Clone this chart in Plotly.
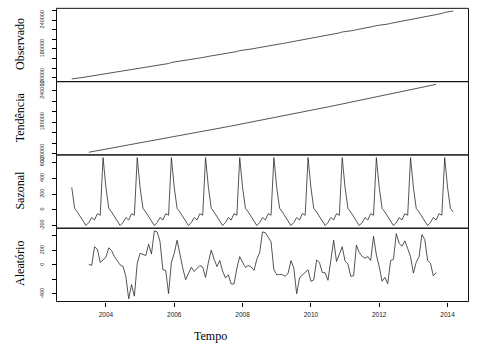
import plotly.graph_objects as go

# ---- data (monthly series, Jan 2003 - Mar 2014) ----
start_year = 2003
freq = 12

observado = [
    117710, 118140, 119230, 120260, 120850, 121850, 122810, 123800, 125030, 126030, 126740, 128470,
    129100, 129960, 130820, 131630, 132460, 133310, 134290, 135160, 135730, 137010, 137780, 140040,
    140810, 141510, 142420, 143540, 144300, 145630, 146640, 147530, 148010, 149080, 149670, 151920,
    152700, 153660, 154340, 155090, 155840, 156910, 158060, 159060, 160100, 161240, 162210, 163790,
    164680, 165650, 166470, 167310, 168380, 169180, 170130, 171280, 172140, 173250, 174530, 176500,
    177060, 177750, 178790, 179740, 180670, 181860, 183060, 184530, 185540, 186590, 187560, 188870,
    189470, 190290, 191290, 192270, 193340, 194560, 195550, 196250, 197560, 198770, 199870, 201720,
    202230, 203070, 204450, 205440, 206300, 207330, 208340, 209810, 211230, 212040, 213260, 215200,
    215690, 216480, 217320, 218380, 219950, 220880, 221970, 223120, 224230, 225360, 226870, 228400,
    228950, 229570, 230710, 231670, 233130, 234230, 235830, 236870, 237930, 239230, 240220, 241960,
    242450, 243510, 244710, 246170, 247170, 247920, 249060, 250070, 251250, 252760, 253600, 255840,
    256370, 257430, 258700,
]

tendencia = [None] * 6 + [
    123000, 123950, 124900, 125860, 126810, 127770,
    128730, 129690, 130650, 131620, 132590, 133550, 134520, 135490, 136470, 137440, 138420, 139400,
    140380, 141360, 142340, 143320, 144310, 145300, 146290, 147280, 148270, 149270, 150270, 151260,
    152270, 153270, 154270, 155280, 156280, 157290, 158300, 159310, 160330, 161340, 162360, 163380,
    164400, 165420, 166450, 167470, 168500, 169530, 170560, 171590, 172630, 173660, 174700, 175740,
    176780, 177820, 178870, 179910, 180960, 182010, 183060, 184110, 185170, 186220, 187280, 188340,
    189400, 190470, 191530, 192600, 193670, 194730, 195810, 196880, 197950, 199030, 200110, 201190,
    202270, 203350, 204440, 205530, 206620, 207710, 208800, 209890, 210990, 212080, 213180, 214280,
    215390, 216490, 217590, 218700, 219810, 220920, 222030, 223150, 224260, 225380, 226500, 227620,
    228740, 229870, 230990, 232120, 233250, 234380, 235510, 236650, 237790, 238920, 240060, 241200,
    242350, 243490, 244640, 245790, 246940, 248090, 249240, 250390, 251550,
] + [None] * 6

sazonal = [
    284, 20, -28, -88, -150, -198, -160, -97, -128, -48, -68, 661,
    284, 20, -28, -88, -150, -198, -160, -97, -128, -48, -68, 661,
    284, 20, -28, -88, -150, -198, -160, -97, -128, -48, -68, 661,
    284, 20, -28, -88, -150, -198, -160, -97, -128, -48, -68, 661,
    284, 20, -28, -88, -150, -198, -160, -97, -128, -48, -68, 661,
    284, 20, -28, -88, -150, -198, -160, -97, -128, -48, -68, 661,
    284, 20, -28, -88, -150, -198, -160, -97, -128, -48, -68, 661,
    284, 20, -28, -88, -150, -198, -160, -97, -128, -48, -68, 661,
    284, 20, -28, -88, -150, -198, -160, -97, -128, -48, -68, 661,
    284, 20, -28, -88, -150, -198, -160, -97, -128, -48, -68, 661,
    284, 20, -28, -88, -150, -198, -160, -97, -128, -48, -68, 661,
    284, 20, -28,
]

aleatorio = [None] * 6 + [
    10, -8, 251, 215, 33, 70,
    105, 237, 197, 115, 53, 0, -22, -158, -468, -272, -431, 23,
    160, 143, 129, 286, 150, 469, 456, 323, -68, -76, -395, 37,
    160, 341, 119, -45, -204, -110, -31, -90, -45, -8, -31, -172,
    37, 205, 78, -22, 60, -86, -181, -136, -263, -263, -45, 115,
    37, -35, -8, -28, -76, 78, 170, 456, 446, 381, 319, -68,
    -136, -131, -135, -158, -113, 60, -45, -399, -181, -136, -102, -68,
    -226, -208, 68, 33, -104, -109, -212, 47, 341, 47, 160, 251,
    53, 12, -158, -150, 274, 170, 119, 92, 115, 60, 395, 137,
    -22, -226, -172, -259, 60, 78, 432, 296, 259, 333, 225, 115,
    -113, 37, 115, 419, 350, 60, 23, -150, -104,
] + [None] * 6

panel_titles = ["Observado", "Tendência", "Sazonal", "Aleatório"]
x_label = "Tempo"
x_ticks = [2004, 2006, 2008, 2010, 2012, 2014]

y_ticks = [
    [120000, 140000, 160000, 180000, 200000, 220000, 240000, 260000],
    [120000, 140000, 160000, 180000, 200000, 220000, 240000],
    [-200, 0, 200, 400, 600],
    [-400, -200, 0, 200, 400],
]
y_labels = [
    ["120000", "", "", "180000", "", "", "240000", ""],
    ["120000", "", "", "180000", "", "", "240000"],
    ["-200", "0", "200", "400", "600"],
    ["-400", "", "0", "200", ""],
]

# ---- layout helpers ----
W, H = 484, 353
n = len(observado)
t = [start_year + i / freq for i in range(n)]


def padded(vals):
    v = [a for a in vals if a is not None]
    lo, hi = min(v), max(v)
    d = (hi - lo) * 0.04
    return [lo - d, hi + d]


xr = padded(t)
x_dom = [56.5 / W, 468.5 / W]
panel_px = [(7.5, 82.5), (82.5, 157.5), (157.5, 232.5), (232.5, 307.5)]

series = [observado, tendencia, sazonal, aleatorio]
fig = go.Figure()
axis_font = "Liberation Sans, Arial, sans-serif"
serif = "Liberation Serif, Times New Roman, serif"

for i, s in enumerate(series):
    xn = "x" if i == 0 else f"x{i + 1}"
    yn = "y" if i == 0 else f"y{i + 1}"
    fig.add_trace(go.Scatter(
        x=t, y=s, mode="lines", line=dict(color="#2a2a2a", width=0.8),
        xaxis=xn, yaxis=yn, showlegend=False, hoverinfo="skip",
        connectgaps=False,
    ))
    top, bot = panel_px[i]
    ydom = [1 - bot / H, 1 - top / H]
    xkey = "xaxis" if i == 0 else f"xaxis{i + 1}"
    ykey = "yaxis" if i == 0 else f"yaxis{i + 1}"
    xa = dict(
        domain=x_dom, range=xr, anchor=yn, showline=False,
        showgrid=False, zeroline=False, fixedrange=True,
    )
    if i == 3:
        xa.update(ticks="outside", ticklen=4, tickcolor="black", tickwidth=1,
                  tickmode="array", tickvals=x_ticks,
                  ticktext=[str(v) for v in x_ticks],
                  tickfont=dict(family=axis_font, size=6.5, color="#222222"),
                  showticklabels=True, ticklabelstandoff=3)
    else:
        xa.update(showticklabels=False, ticks="", matches="x")
    ya = dict(
        domain=ydom, range=padded(s), anchor=xn, showline=False,
        showgrid=False, zeroline=False,
        ticks="outside", ticklen=4, tickcolor="black", tickwidth=1,
        tickmode="array", tickvals=y_ticks[i], ticktext=y_labels[i],
        tickangle=-90, tickfont=dict(family=axis_font, size=5.5, color="#222222"),
        ticklabelstandoff=5, fixedrange=True,
    )
    fig.layout[xkey] = xa
    fig.layout[ykey] = ya
    # panel frame (shared edges coincide, so each border is drawn once)
    fig.add_shape(
        type="rect", xref="paper", yref="paper",
        x0=x_dom[0], x1=x_dom[1], y0=ydom[0], y1=ydom[1],
        line=dict(color="#111111", width=1), fillcolor="rgba(0,0,0,0)",
        layer="above",
    )
    fig.add_annotation(
        text=panel_titles[i], textangle=-90, showarrow=False,
        xref="paper", yref="paper", x=20 / W, y=1 - ((top + bot) / 2 - 1) / H,
        xanchor="center", yanchor="middle",
        font=dict(family=serif, size=12, color="black"),
    )

fig.add_annotation(
    text=x_label, showarrow=False, xref="paper", yref="paper",
    x=210.5 / W, y=1 - 342.5 / H, xanchor="center", yanchor="middle",
    font=dict(family=serif, size=12, color="black"),
)

fig.update_layout(
    width=W, height=H, autosize=False,
    margin=dict(l=0, r=0, t=0, b=0, pad=0),
    paper_bgcolor="white", plot_bgcolor="white",
)

fig.write_html("out.html")
